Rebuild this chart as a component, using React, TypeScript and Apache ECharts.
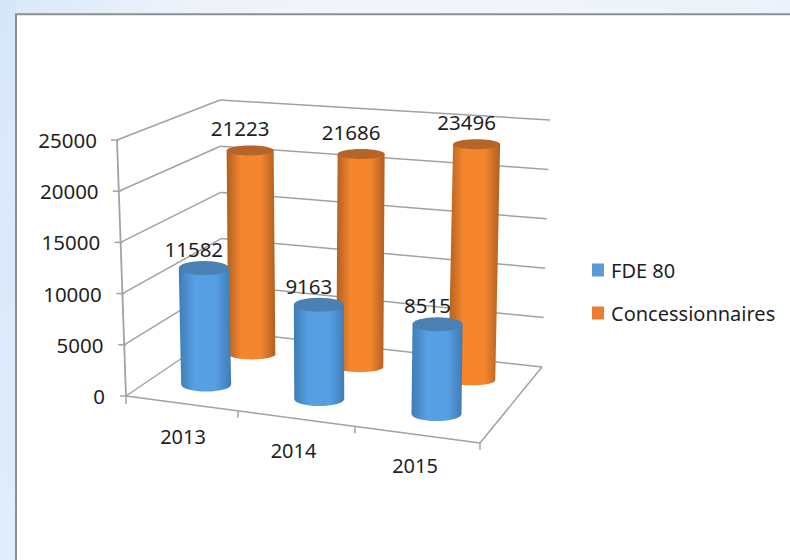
import React, { useEffect, useRef } from "react";
import * as echarts from "echarts";

const categories = ["2013", "2014", "2015"];
const fde80 = [11582, 9163, 8515];
const concessionnaires = [21223, 21686, 23496];
const yTicks = [0, 5000, 10000, 15000, 20000, 25000];

const W = 790;
const H = 560;
const FONT = '"Noto Sans", sans-serif';
const TEXT = "#1f1f1f";
const GRID = { left: 126, right: 480, top: 140, bottom: 396 };
const WALL = "#a2a2a2";

type P = [number, number];
const floor: Record<string, P> = { fl: [126, 396], fr: [480, 443], bl: [222, 331], br: [542, 367] };
const roof: Record<string, P> = { fl: [117, 140], fr: [484, 169], bl: [220, 100], br: [550, 120] };
const categoryShift = [0, -0.005, 0.002];
const tickShift = [-0.017, -0.02, 0];

const mix = (a: P, b: P, t: number): P => [a[0] + (b[0] - a[0]) * t, a[1] + (b[1] - a[1]) * t];
const plane = (c: Record<string, P>, u: number, d: number): P => mix(mix(c.fl, c.fr, u), mix(c.bl, c.br, u), d);
// u: along categories, d: depth of the row, f: share of the value axis
const project = (u: number, d: number, f: number): P => mix(plane(floor, u, d), plane(roof, u, d), f);

const gridU = (x: number) => (x - GRID.left) / (GRID.right - GRID.left);
const gridF = (y: number) => (GRID.bottom - y) / (GRID.bottom - GRID.top);

const lineEl = (a: P, b: P, width = 1.5) => ({
  type: "line",
  shape: { x1: a[0], y1: a[1], x2: b[0], y2: b[1] },
  style: { stroke: WALL, lineWidth: width, fill: "none" },
  silent: true,
});

function wallsItem(_params: any, api: any) {
  const f = gridF(api.coord([0, api.value(1)])[1]);
  const front = project(0, 0, f);
  const back = project(0, 1, f);
  const right = project(1, 1, f);
  const kids: any[] = [
    lineEl(front, back),
    lineEl(back, right),
    lineEl([front[0] - 6, front[1]], [front[0] + 2, front[1]]),
  ];
  return { type: "group", children: kids };
}

function frameItem(_params: any, api: any) {
  const i = api.value(0);
  const c = api.coord([i, 0]);
  const step = api.size([1, 0])[0];
  const u = gridU(c[0] + step / 2) + tickShift[i];
  const p = project(u, 0, 0);
  return { type: "group", children: [lineEl(p, [p[0], p[1] + 7])] };
}

function staticFrame() {
  return {
    type: "custom",
    coordinateSystem: "cartesian2d",
    silent: true,
    data: [[0, 0]],
    renderItem: () => ({
      type: "group",
      children: [
        lineEl(project(0, 0, 0), project(1, 0, 0)),
        lineEl(project(1, 0, 0), project(1, 1, 0)),
        lineEl(project(0, 0, 0), project(0, 0, 1), 1.8),
        lineEl(project(0, 0, 0), [project(0, 0, 0)[0], project(0, 0, 0)[1] + 8]),
      ],
    }),
  };
}

function cylinderSeries(
  name: string,
  values: number[],
  depth: number,
  shift: number,
  rx: number,
  ry: number,
  labelDy: number,
  color: string,
  edge: string,
  mid: string,
  cap: string
) {
  return {
    type: "custom",
    name,
    coordinateSystem: "cartesian2d",
    itemStyle: { color },
    encode: { x: 0, y: 1 },
    data: values.map((v, i) => [i, v]),
    renderItem: (_params: any, api: any) => {
      const c = api.coord([api.value(0), api.value(1)]);
      const u = gridU(c[0]) + shift + categoryShift[api.value(0)];
      const f = gridF(c[1]);
      const bottom = project(u, depth, 0);
      const top = project(u, depth, f);
      const path =
        `M${top[0] - rx} ${top[1]} L${bottom[0] - rx} ${bottom[1]} ` +
        `A${rx} ${ry} 0 0 0 ${bottom[0] + rx} ${bottom[1]} ` +
        `L${top[0] + rx} ${top[1]} Z`;
      return {
        type: "group",
        children: [
          {
            type: "path",
            shape: { pathData: path },
            style: {
              fill: new echarts.graphic.LinearGradient(0, 0, 1, 0, [
                { offset: 0, color: edge },
                { offset: 0.3, color: mid },
                { offset: 0.7, color: mid },
                { offset: 1, color: edge },
              ]),
            },
          },
          {
            type: "ellipse",
            shape: { cx: top[0], cy: top[1], rx, ry },
            style: { fill: cap },
          },
          {
            type: "text",
            x: top[0] - 10,
            y: top[1] + labelDy,
            z2: 100,
            style: {
              text: String(api.value(1)),
              fontFamily: FONT,
              fontSize: 20.5,
              fill: TEXT,
              align: "center",
              verticalAlign: "middle",
            },
          },
        ],
      };
    },
  };
}

const xLabelPad = [
  [30, 4],
  [44, 19],
  [59, 12],
];

export default function App() {
  const ref = useRef<HTMLDivElement>(null);
  useEffect(() => {
    document.body.style.margin = "0";
    const chart = echarts.init(ref.current!, undefined, { renderer: "svg" });
    const xRich: any = {};
    xLabelPad.forEach((p, i) => {
      xRich[`c${i}`] = { fontFamily: FONT, fontSize: 20, color: TEXT, padding: [p[0], p[1], 0, 0] };
    });
    const yRich: any = {};
    yTicks.forEach((t, i) => {
      yRich[`t${t}`] = { fontFamily: FONT, fontSize: 20.5, color: TEXT, padding: [0, (i * 8) / 5, 0, 0] };
    });
    chart.setOption({
      animation: false,
      backgroundColor: "#e6f0fb",
      graphic: [
        {
          type: "rect",
          z: -3,
          silent: true,
          shape: { x: 0, y: 0, width: W, height: 16 },
          style: {
            fill: new echarts.graphic.LinearGradient(0, 0, 1, 0, [
              { offset: 0, color: "#d9e8f8" },
              { offset: 0.25, color: "#eef3fb" },
              { offset: 0.6, color: "#f2f5fb" },
              { offset: 1, color: "#eaf3fb" },
            ]),
          },
        },
        {
          type: "rect",
          z: -3,
          silent: true,
          shape: { x: 0, y: 0, width: 16, height: H },
          style: {
            fill: new echarts.graphic.LinearGradient(0, 0, 0, 1, [
              { offset: 0, color: "#d6e7f8" },
              { offset: 0.4, color: "#dde9fa" },
              { offset: 1, color: "#e0edfd" },
            ]),
          },
        },
        {
          type: "rect",
          z: -2,
          silent: true,
          shape: { x: 16, y: 14.3, width: W + 20, height: H + 20 },
          style: { fill: "#ffffff", stroke: "#8f8f8f", lineWidth: 2 },
        },
      ],
      legend: {
        orient: "vertical",
        left: 587,
        top: 255,
        itemWidth: 12,
        itemHeight: 13,
        itemGap: 23,
        icon: "rect",
        data: ["FDE 80", "Concessionnaires"],
        textStyle: { fontFamily: FONT, fontSize: 20, color: TEXT, padding: [0, 0, 0, 2] },
      },
      grid: { left: GRID.left, top: GRID.top, width: GRID.right - GRID.left, height: GRID.bottom - GRID.top },
      xAxis: {
        type: "category",
        data: categories,
        axisLine: { show: false },
        axisTick: { show: false },
        splitLine: { show: false },
        axisLabel: {
          margin: 0,
          verticalAlign: "top",
          formatter: (v: string, i: number) => `{c${i}|${v}}`,
          rich: xRich,
        },
      },
      yAxis: {
        type: "value",
        min: 0,
        max: 25000,
        interval: 5000,
        axisLine: { show: false },
        axisTick: { show: false },
        splitLine: { show: false },
        axisLabel: {
          margin: 21,
          formatter: (v: number) => `{t${v}|${v}}`,
          rich: yRich,
        },
      },
      series: [
        {
          type: "custom",
          coordinateSystem: "cartesian2d",
          silent: true,
          data: yTicks.map((t) => [0, t]),
          encode: { x: 0, y: 1 },
          renderItem: wallsItem,
        },
        {
          type: "custom",
          coordinateSystem: "cartesian2d",
          silent: true,
          data: categories.map((_, i) => [i, 0]),
          encode: { x: 0, y: 1 },
          renderItem: frameItem,
        },
        staticFrame(),
        cylinderSeries("Concessionnaires", concessionnaires, 0.74, 0, 23.5, 5, -22, "#ed7d31", "#b05f20", "#f5862e", "#b5642a"),
        cylinderSeries("FDE 80", fde80, 0.28, -0.012, 25, 7, -19, "#5b9bd5", "#3f7cb5", "#579fe3", "#4a80b2"),
      ],
    });
    return () => chart.dispose();
  }, []);
  return <div ref={ref} style={{ position: "fixed", left: 0, top: 0, width: W, height: H }} />;
}
